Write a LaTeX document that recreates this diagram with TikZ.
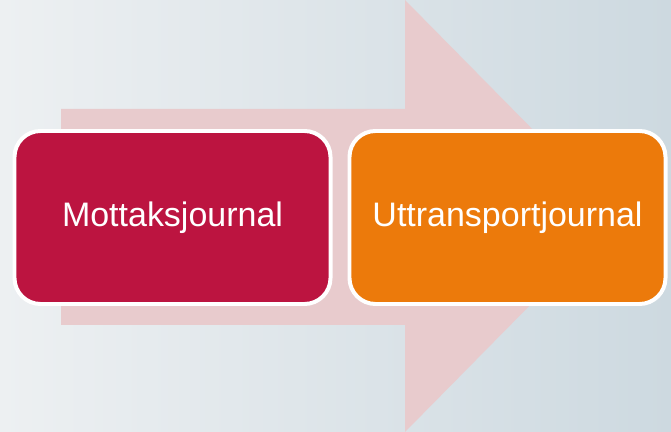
\documentclass[tikz,border=0pt]{standalone}
\usepackage{fontspec}
\setmainfont{Liberation Sans}
\usetikzlibrary{positioning}
\definecolor{mottak}{HTML}{BC1440}
\definecolor{uttransport}{HTML}{EC7A0B}
\definecolor{pil}{HTML}{E8CBCD}
\definecolor{bgleft}{HTML}{EDF0F2}
\definecolor{bgright}{HTML}{CDD9E0}

\begin{document}
\begin{tikzpicture}[x=0.03cm,y=-0.03cm,journal/.style={rectangle,rounded corners=0.78cm,draw=white,line width=3.4pt,minimum width=9.48cm,minimum height=5.19cm,text=white,font=\fontsize{29}{34}\selectfont}]
    \shade[left color=bgleft,right color=bgright] (0,0) rectangle (671,432);
    \fill[pil] (61,109) -- (405,109) -- (405,0) -- (618,216) -- (405,432) -- (405,325) -- (61,325) -- cycle;

    \node[journal,fill=mottak] (mottak) at (172.5,217.5) {Mottaksjournal};
    \node[journal,fill=uttransport] (uttransport) [right=0.45cm of mottak] {Uttransportjournal};
\end{tikzpicture}
\end{document}
